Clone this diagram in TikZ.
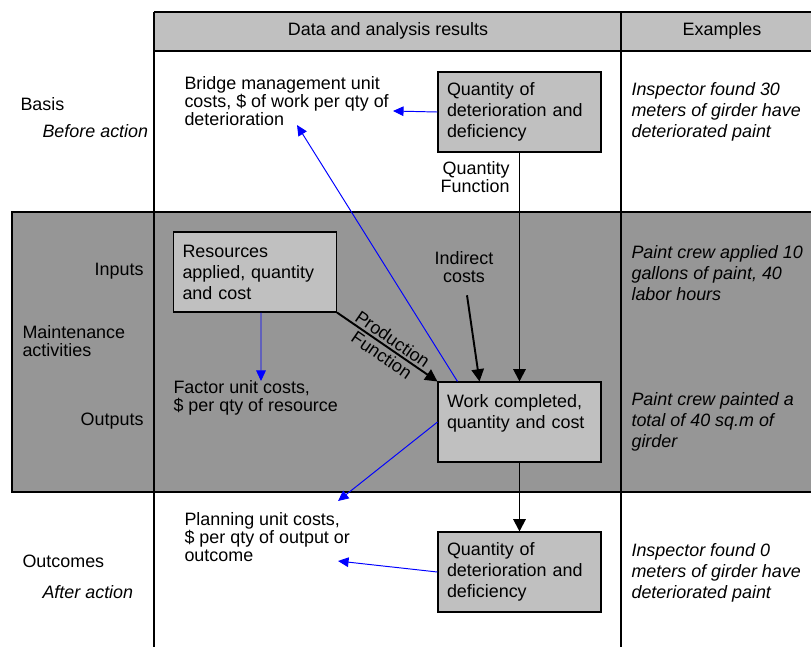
\documentclass[tikz,border=0pt]{standalone}
\usepackage{fontspec}
\setmainfont{Liberation Sans}
\usetikzlibrary{arrows.meta}

\definecolor{lightgr}{HTML}{C0C0C0}
\definecolor{darkgr}{HTML}{969696}
\definecolor{costblue}{HTML}{0000FF}

\tikzset{
	txt/.style={font=\fontsize{10.2}{10.4}\selectfont, inner sep=0pt, align=left},
	exmp/.style={font=\fontsize{10.2}{12}\selectfont\itshape, inner sep=0pt, align=left, anchor=west},
	box/.style={draw, line width=0.6pt, fill=lightgr, minimum width=3.26cm, minimum height=1.6cm,
		text width=2.9cm, inner xsep=0.18cm, align=left, font=\fontsize{10.2}{12}\selectfont},
	flow/.style={-{Triangle[length=7pt,width=7pt]}, line width=1.1pt},
	cost/.style={-{Triangle[length=6pt,width=5.5pt]}, costblue, line width=0.55pt},
}

\begin{document}
\begin{tikzpicture}[x=0.02cm, y=-0.02cm, line width=0.6pt]

	\useasboundingbox (0,0) rectangle (811,647);

	% header and maintenance band
	\fill [lightgr] (154,12) rectangle (811,51);
	\draw (154,12) -- (811,12);
	\draw (154,51) -- (811,51);
	\fill [darkgr] (12,212) rectangle (811,492);
	\draw (811,212) -- (12,212) -- (12,492) -- (811,492);
	\draw (154,12) -- (154,647);
	\draw (621,12) -- (621,647);

	\node [txt] (hdrData) at (388,31) {Data and analysis results};
	\node [txt] (hdrEx) at (722,31) {Examples};

	% row labels
	\node [txt, anchor=west] (basis) at (20,104) {Basis};
	\node [txt, anchor=west, font=\fontsize{10.2}{10.4}\selectfont\itshape] (before) at (42,131) {Before action};
	\node [txt, anchor=east] (inputs) at (144,271) {Inputs};
	\node [txt, anchor=west] (maint) at (22,341) {Maintenance\\activities};
	\node [txt, anchor=east] (outputs) at (144,421) {Outputs};
	\node [txt, anchor=west] (outcomes) at (22,561) {Outcomes};
	\node [txt, anchor=west, font=\fontsize{10.2}{10.4}\selectfont\itshape] (after) at (42,592) {After action};

	% boxes
	\node [box] (qtyTop) at (519.5,112) {Quantity of\\deterioration and\\deficiency};
	\node [box] (res) at (255,272) {Resources\\applied, quantity\\and cost};
	\node [box] (work) at (519.5,422) {Work completed,\\quantity and cost\\~};
	\node [box] (qtyBot) at (519.5,572) {Quantity of\\deterioration and\\deficiency};

	% unit cost texts
	\node [txt, anchor=west] (bmCost) at (184,101) {Bridge management unit\\costs, \$ of work per qty of\\deterioration};
	\node [txt, anchor=east, align=right] (qtyFn) at (510,177) {Quantity\\Function};
	\node [txt, align=center] (indirect) at (464,267) {Indirect\\costs};
	\node [txt, anchor=west] (factor) at (173,398) {Factor unit costs,\\\$ per qty of resource};
	\node [txt, anchor=west] (planning) at (184,537) {Planning unit costs,\\\$ per qty of output or\\outcome};

	% examples
	\node [exmp] (exA) at (631,112) {Inspector found 30\\meters of girder have\\deteriorated paint};
	\node [exmp] (exB) at (631,273) {Paint crew applied 10\\gallons of paint, 40\\labor hours};
	\node [exmp] (exC) at (631,422) {Paint crew painted a\\total of 40 sq.m of\\girder};
	\node [exmp] (exD) at (631,573) {Inspector found 0\\meters of girder have\\deteriorated paint};

	\coordinate (bmIn) at (393,111);
	\coordinate (bmIn2) at (297,125);
	\coordinate (factorIn) at (261,381);
	\coordinate (planIn) at (338,501);
	\coordinate (planIn2) at (338,561);

	% flows
	\draw [flow] (qtyTop.south) -- (work.north);
	\draw [flow] ([xshift=0.06cm, yshift=-0.24cm]indirect.south) -- ([xshift=-0.8cm]work.north);
	\draw [flow] (res.south east) -- (work.north west)
		node [midway, sloped, txt, align=center, font=\fontsize{10.2}{11}\selectfont] (prodFn) {Production\\Function};
	\draw [flow] (work.south) -- (qtyBot.north);

	% unit costs
	\draw [cost] (qtyTop.west) -- (bmIn);
	\draw [cost] ([xshift=0.4cm]work.north west) -- (bmIn2);
	\draw [cost] ([xshift=0.12cm]res.south) -- (factorIn);
	\draw [cost] (work.west) -- (planIn);
	\draw [cost] (qtyBot.west) -- (planIn2);

\end{tikzpicture}
\end{document}
